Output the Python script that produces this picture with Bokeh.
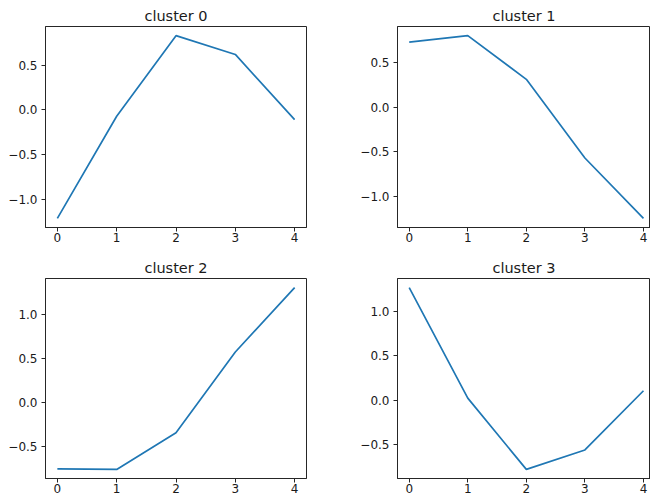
from bokeh.plotting import figure
from bokeh.layouts import column, row
from bokeh.models import FixedTicker, CustomJSTickFormatter, Range1d
from bokeh.embed import file_html
from bokeh.resources import INLINE

x_vals = [0, 1, 2, 3, 4]
cluster_names = ["cluster 0", "cluster 1", "cluster 2", "cluster 3"]
cluster0 = [-1.21, -0.07, 0.83, 0.62, -0.107]
cluster1 = [0.725, 0.797, 0.31, -0.567, -1.24]
cluster2 = [-0.757, -0.762, -0.345, 0.575, 1.308]
cluster3 = [1.27, 0.025, -0.778, -0.559, 0.108]
x_ticks = [0, 1, 2, 3, 4]
y_ticks = [-1.0, -0.5, 0.0, 0.5, 1.0]

FONT = "DejaVu Sans"
TXT = "#1a1a1a"
SPINE = "#262626"


def make_fig(name, vals, width, height, bl, br, bt, bb, x_end):
    lo, hi = min(vals), max(vals)
    pad = 0.05 * (hi - lo)
    p = figure(width=width, height=height, title=name,
               output_backend="svg", toolbar_location=None,
               x_range=Range1d(-0.2, x_end), y_range=Range1d(lo - pad, hi + pad),
               min_border_left=bl, min_border_right=br,
               min_border_top=bt, min_border_bottom=bb)
    p.line(x_vals, vals, line_color="#1f77b4", line_width=1.7)
    p.grid.visible = False
    p.background_fill_color = "white"
    p.border_fill_color = "white"
    p.outline_line_color = SPINE
    p.outline_line_width = 1
    p.outline_line_alpha = 1
    p.title.align = "center"
    p.title.text_font = FONT
    p.title.text_font_size = "14.5px"
    p.title.text_font_style = "normal"
    p.title.text_color = TXT
    p.title.standoff = 6
    p.xaxis.ticker = FixedTicker(ticks=x_ticks)
    p.yaxis.ticker = FixedTicker(ticks=y_ticks)
    p.yaxis.formatter = CustomJSTickFormatter(
        code="return tick.toFixed(1).replace('-', '\u2212');")
    for ax in (p.xaxis, p.yaxis):
        ax.axis_line_color = SPINE
        ax.major_tick_line_color = SPINE
        ax.major_tick_out = 4
        ax.major_tick_in = 0
        ax.minor_tick_line_color = None
        ax.major_label_text_font = FONT
        ax.major_label_text_font_size = "12px"
        ax.major_label_text_color = TXT
    p.xaxis.major_label_standoff = 1
    p.yaxis.major_label_standoff = 4
    return p


p0 = make_fig(cluster_names[0], cluster0, 350, 250, 45, 44, 26, 23, 4.2)
p1 = make_fig(cluster_names[1], cluster1, 300, 250, 47, 0, 26, 23, 4.12)
p2 = make_fig(cluster_names[2], cluster2, 350, 249, 45, 44, 28, 21, 4.2)
p3 = make_fig(cluster_names[3], cluster3, 300, 249, 47, 0, 28, 21, 4.12)

layout = column(row(p0, p1), row(p2, p3))

open("out.html", "w").write(file_html(layout, INLINE))
